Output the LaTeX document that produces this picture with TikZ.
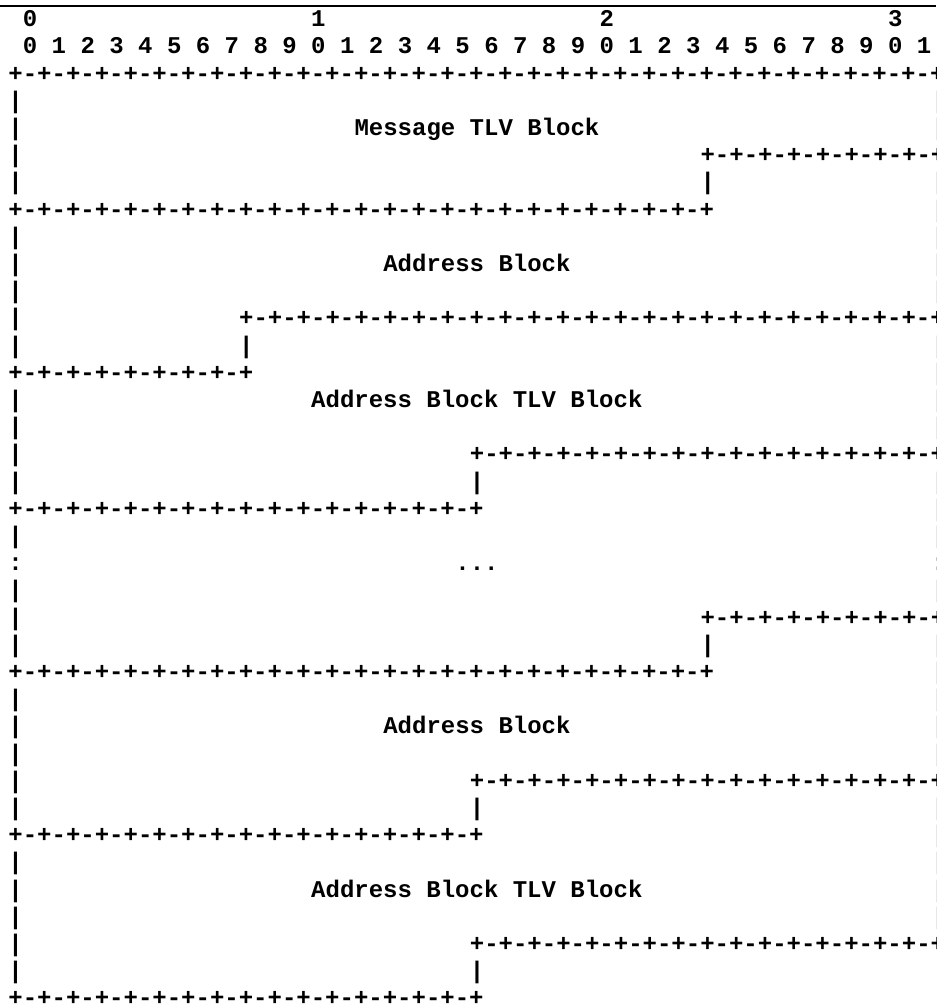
\documentclass[tikz,border=0pt]{standalone}
\usepackage{fontspec}
\setmonofont{Liberation Mono}
\usepackage{tikz}
\usetikzlibrary{calc}

% character grid, in pixels
\newcommand{\cw}{14.42}
\newcommand{\xo}{8.15}
\newcommand{\lh}{27.2}
\newcommand{\yo}{26.6}
\newcommand{\plusrun}[1]{+\foreach \k in {1,...,#1}{-+}}
\newcommand{\seg}[3]{\node[asc] (r#1c#2) at ({\xo+#2*\cw},{\yo+#1*\lh}) {#3};}

\begin{document}
\begin{tikzpicture}[
    x=0.75pt, y=-0.75pt,
    asc/.style={font=\ttfamily\bfseries\fontsize{18}{20}\selectfont, inner sep=0pt, anchor=base west},
    rule/.style={line width=1.3pt}
]
    \useasboundingbox (0,0) rectangle (936,1006);
    \clip (0,0) rectangle (936,1006);

    % rule at the top
    \coordinate (ruleL) at (0,6);
    \coordinate (ruleR) at (936,6);
    \draw[rule] (ruleL) -- (ruleR);

    % bit numbers
    \seg{0}{1}{0} \seg{0}{21}{1} \seg{0}{41}{2} \seg{0}{61}{3}
    \foreach \b in {0,...,31}{
        \pgfmathtruncatemacro{\d}{mod(\b,10)}
        \pgfmathtruncatemacro{\c}{2*\b+1}
        \seg{1}{\c}{\d}
    }

    % outer walls
    \foreach \r in {3,4,5,6,8,9,10,11,12,14,15,16,17,19,21,22,23,25,26,27,28,29,31,32,33,34,35}
        {\seg{\r}{0}{|}}
    \foreach \r in {3,4,6,7,8,9,10,12,13,14,15,17,18,19,21,23,24,25,26,27,29,30,31,32,33}
        {\seg{\r}{64}{|}}
    \seg{20}{0}{:} \seg{20}{64}{:}

    % +-+- lines: row/col/segments
    \foreach \r/\c/\n in {2/0/32, 5/48/8, 7/0/24, 11/16/24, 13/0/8, 16/32/16, 18/0/16,
                          22/48/8, 24/0/24, 28/32/16, 30/0/16, 34/32/16, 36/0/16}
        {\seg{\r}{\c}{\plusrun{\n}}}

    % inner walls
    \foreach \r/\c in {6/48, 12/16, 17/32, 23/48, 29/32, 35/32}
        {\seg{\r}{\c}{|}}

    % field names
    \seg{4}{24}{Message TLV Block}
    \seg{9}{26}{Address Block}
    \seg{14}{21}{Address Block TLV Block}
    \seg{20}{31}{...}
    \seg{26}{26}{Address Block}
    \seg{32}{21}{Address Block TLV Block}
\end{tikzpicture}
\end{document}
